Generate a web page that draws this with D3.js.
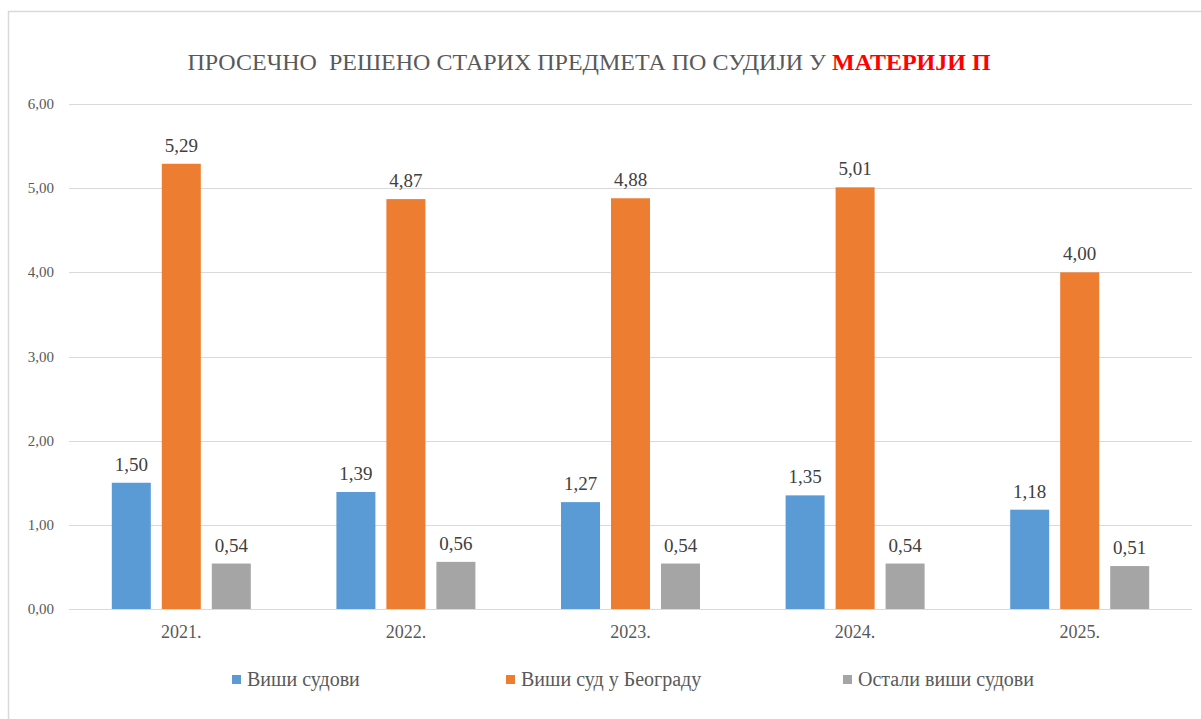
<!DOCTYPE html>
<html>
<meta charset="utf-8">
<style>
    body { margin: 0; background: #fff; }
    svg { display: block; }
    svg text { font-family: "Times New Roman", "Liberation Serif", "DejaVu Serif", serif; }
</style>
<body>
<svg width="1201" height="719"></svg>

<script src="https://d3js.org/d3.v7.min.js"></script>
<script>
    // data
    let years = ["2021.", "2022.", "2023.", "2024.", "2025."];
    let seriesNames = ["Виши судови", "Виши суд у Београду", "Остали виши судови"];
    let visiSudovi = [1.50, 1.39, 1.27, 1.35, 1.18];
    let visiSudBeograd = [5.29, 4.87, 4.88, 5.01, 4.00];
    let ostaliVisi = [0.54, 0.56, 0.54, 0.54, 0.51];
    let yTicks = [0, 1, 2, 3, 4, 5, 6];

    let colors = ["#5B9BD5", "#ED7D31", "#A5A5A5"];
    let seriesValues = [visiSudovi, visiSudBeograd, ostaliVisi];

    let svg = d3.select("svg");
    let fmt = v => d3.format(".2f")(v).replace(".", ",");

    // outer frame (only left and top visible in picture)
    svg.append("path")
        .attr("d", "M8.5,719 L8.5,11.5 L1201,11.5")
        .attr("fill", "none")
        .attr("stroke", "#d9d9d9")
        .attr("stroke-width", 1.5);

    // title
    let title = svg.append("text")
        .attr("x", 589).attr("y", 70)
        .attr("text-anchor", "middle")
        .style("font-size", "24px")
        .style("white-space", "pre")
        .attr("fill", "#595959");
    title.append("tspan").text("ПРОСЕЧНО  РЕШЕНО СТАРИХ ПРЕДМЕТА ПО СУДИЈИ У ");
    title.append("tspan").text("МАТЕРИЈИ П").attr("fill", "#ff0000").style("font-weight", "bold");

    let plotLeft = 69, plotRight = 1192, plotTop = 104, plotBottom = 609;

    let xScale = d3.scaleBand().domain(years).range([plotLeft, plotRight]).padding(0);
    let yScale = d3.scaleLinear().domain([0, 6]).range([plotBottom, plotTop]);
    let xInner = d3.scaleBand().domain(d3.range(3)).range([-69.5, 69.5]).paddingInner(0.22);

    // gridlines
    svg.append("g").selectAll("line")
        .data(yTicks)
        .join("line")
        .attr("x1", plotLeft).attr("x2", plotRight)
        .attr("y1", d => Math.round(yScale(d)) + 0.5)
        .attr("y2", d => Math.round(yScale(d)) + 0.5)
        .attr("stroke", "#d9d9d9")
        .attr("stroke-width", 1);

    // y axis labels
    svg.append("g").selectAll("text")
        .data(yTicks)
        .join("text")
        .attr("x", 54)
        .attr("y", d => yScale(d) + 5)
        .attr("text-anchor", "end")
        .style("font-size", "15px")
        .attr("fill", "#595959")
        .text(d => fmt(d));

    // bars
    let rows = [];
    years.forEach((yr, i) => {
        seriesValues.forEach((vals, s) => rows.push({year: yr, s: s, v: vals[i]}));
    });

    let cx = d => xScale(d.year) + xScale.bandwidth() / 2;

    svg.append("g").selectAll("rect")
        .data(rows)
        .join("rect")
        .attr("x", d => cx(d) + xInner(d.s))
        .attr("width", xInner.bandwidth())
        .attr("y", d => yScale(d.v))
        .attr("height", d => yScale(0) - yScale(d.v))
        .attr("fill", d => colors[d.s]);

    // value labels
    svg.append("g").selectAll("text")
        .data(rows)
        .join("text")
        .attr("x", d => cx(d) + xInner(d.s) + xInner.bandwidth() / 2)
        .attr("y", d => yScale(d.v) - 12)
        .attr("text-anchor", "middle")
        .style("font-size", "19px")
        .attr("fill", "#404040")
        .text(d => fmt(d.v));

    // x axis labels
    svg.append("g").selectAll("text")
        .data(years)
        .join("text")
        .attr("x", d => xScale(d) + xScale.bandwidth() / 2)
        .attr("y", 638)
        .attr("text-anchor", "middle")
        .style("font-size", "18px")
        .attr("fill", "#595959")
        .text(d => d);

    // legend
    let legendX = [232, 506, 843];
    let legend = svg.append("g").selectAll("g")
        .data(seriesNames)
        .join("g")
        .attr("transform", (d, i) => "translate(" + legendX[i] + ",0)");
    legend.append("rect")
        .attr("x", 0).attr("y", 675)
        .attr("width", 9).attr("height", 9)
        .attr("fill", (d, i) => colors[i]);
    legend.append("text")
        .attr("x", 15).attr("y", 686)
        .style("font-size", "20px")
        .attr("fill", "#595959")
        .text(d => d);
</script>
</body>
</html>
